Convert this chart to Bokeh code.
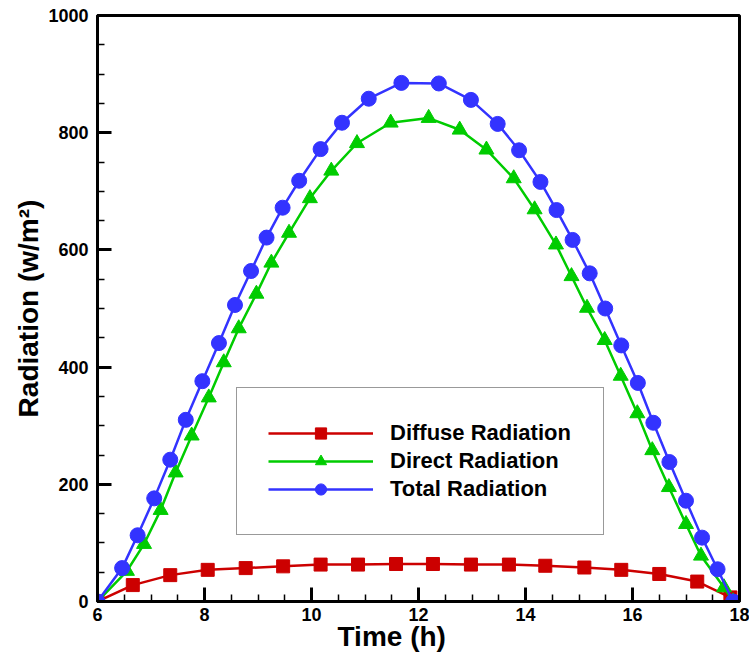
from bokeh.plotting import figure
from bokeh.models import Range1d, SingleIntervalTicker, Legend, LegendItem, Title
from bokeh.embed import file_html
from bokeh.resources import INLINE

# ---- data ----
time_diffuse = [6.00, 6.66, 7.36, 8.06, 8.77, 9.47, 10.17, 10.87, 11.58, 12.27,
                12.98, 13.69, 14.37, 15.10, 15.79, 16.50, 17.21, 17.83]
diffuse = [0, 28, 45, 54, 57, 60, 63, 63, 64, 64, 63, 63, 61, 58, 54, 47, 34, 7]

time_direct = [6.00, 6.55, 6.87, 7.18, 7.46, 7.76, 8.08, 8.36, 8.64, 8.97, 9.25,
               9.58, 9.97, 10.37, 10.85, 11.48, 12.19, 12.77, 13.27, 13.78, 14.17,
               14.57, 14.86, 15.15, 15.48, 15.78, 16.09, 16.37, 16.68, 17.00, 17.28,
               17.71, 17.88]
direct = [0, 52, 98, 156, 220, 283, 348, 408, 466, 525, 578, 629, 688, 735, 782,
          817, 825, 805, 771, 722, 669, 609, 555, 501, 446, 385, 321, 258, 195,
          132, 78, 24, 0]

time_total = [6.00, 6.46, 6.75, 7.06, 7.36, 7.65, 7.96, 8.27, 8.57, 8.87, 9.16,
              9.46, 9.77, 10.17, 10.57, 11.07, 11.68, 12.38, 12.98, 13.48, 13.88,
              14.28, 14.58, 14.88, 15.20, 15.49, 15.79, 16.10, 16.39, 16.69, 17.00,
              17.30, 17.59, 17.88]
total = [0, 57, 113, 176, 242, 310, 376, 441, 506, 564, 621, 672, 718, 772, 817,
         858, 885, 884, 856, 815, 770, 716, 668, 617, 560, 500, 437, 373, 305, 238,
         172, 109, 55, 0]

series_labels = ["Diffuse Radiation", "Direct Radiation", "Total Radiation"]
x_label = "Time (h)"
y_label = "Radiation (w/m\u00b2)"

RED = "#CC0000"
GREEN = "#00CC00"
BLUE = "#3333FF"
FONT = "Liberation Sans"

p = figure(width=749, height=656, output_backend="svg", toolbar_location=None,
           x_range=Range1d(6, 18), y_range=Range1d(0, 1000),
           min_border_left=97, min_border_right=10, min_border_top=15,
           min_border_bottom=55, title=None)

p.xgrid.visible = False
p.ygrid.visible = False
p.outline_line_color = "black"
p.outline_line_width = 3
p.outline_line_alpha = 1
p.background_fill_color = "white"
p.border_fill_color = "white"

p.xaxis.ticker = SingleIntervalTicker(interval=2, num_minor_ticks=4)
p.yaxis.ticker = SingleIntervalTicker(interval=200, num_minor_ticks=4)
p.yaxis.axis_label = y_label

for ax in [p.xaxis[0], p.yaxis[0]]:
    ax.axis_line_width = 3
    ax.axis_line_color = "black"
    ax.major_tick_in = 14
    ax.major_tick_out = 0
    ax.minor_tick_in = 7
    ax.minor_tick_out = 0
    ax.major_tick_line_width = 3
    ax.minor_tick_line_width = 1.5
    ax.major_tick_line_color = "black"
    ax.minor_tick_line_color = "black"
    ax.major_label_text_font = FONT
    ax.major_label_text_font_style = "bold"
    ax.major_label_text_font_size = "18px"
    ax.major_label_text_color = "black"
    ax.axis_label_text_font = FONT
    ax.axis_label_text_font_style = "bold"
    ax.axis_label_text_font_size = "28px"
    ax.axis_label_text_color = "black"

p.yaxis.major_label_standoff = 9
p.xaxis.major_label_standoff = 6
p.yaxis.axis_label_standoff = 1

# x-axis title: sits a little left of the frame centre in the reference
p.add_layout(Title(text=x_label, align="left", offset=240, standoff=-5,
                   vertical_align="top", text_font=FONT, text_font_style="bold",
                   text_font_size="28px", text_color="black"), "below")

r_d_line = p.line(time_diffuse, diffuse, line_color=RED, line_width=2.5)
r_d_mark = p.scatter(time_diffuse, diffuse, marker="square", size=13,
                     fill_color=RED, line_color=RED)
r_g_line = p.line(time_direct, direct, line_color=GREEN, line_width=2.5)
r_g_mark = p.scatter(time_direct, direct, marker="triangle", size=15,
                     fill_color=GREEN, line_color=GREEN)
r_b_line = p.line(time_total, total, line_color=BLUE, line_width=2.5)
r_b_mark = p.scatter(time_total, total, marker="circle", size=15,
                     fill_color=BLUE, line_color=BLUE)

legend = Legend(
    items=[
        LegendItem(label=series_labels[0], renderers=[r_d_line, r_d_mark]),
        LegendItem(label=series_labels[1], renderers=[r_g_line, r_g_mark]),
        LegendItem(label=series_labels[2], renderers=[r_b_line, r_b_mark]),
    ],
    location=(139, 66), orientation="vertical",
    glyph_width=105, glyph_height=28, spacing=0, padding=31,
    label_standoff=17, label_width=182, label_height=28,
    label_text_font=FONT, label_text_font_style="bold",
    label_text_font_size="22px", label_text_color="black",
    border_line_color="#333333", border_line_width=1,
    background_fill_color="white", background_fill_alpha=1, margin=0,
)
p.add_layout(legend)

open("out.html", "w").write(file_html(p, INLINE))
